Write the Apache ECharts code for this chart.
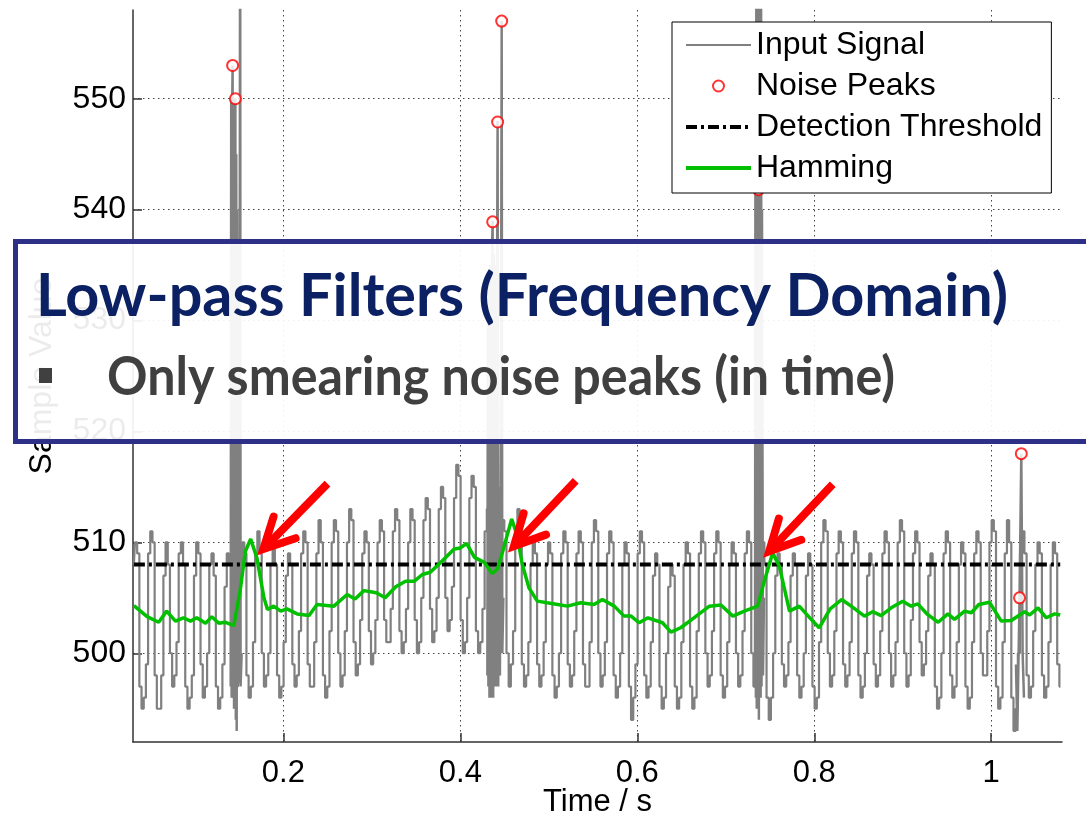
<!DOCTYPE html>
<html><head><meta charset="utf-8">
<script src="https://cdn.jsdelivr.net/npm/echarts@6/dist/echarts.min.js"></script>
<style>html,body{margin:0;padding:0;background:#fff}#c{width:1086px;height:816px}</style>
</head><body><div id="c"></div>
<script>
// ---------- data ----------
const xTicks = [0.2, 0.4, 0.6, 0.8, 1];
const yTicks = [500, 510, 520, 530, 540, 550];

const signalStart = 0.031;
const signalStep = 0.00247;
const signalValues = [
508,510,509,497,495,496,499,
509,511,510,498,495,495,498,
507,510,508,500,497,498,501,
509,510,508,497,495,496,498,
507,510,509,499,496,497,500,
508,509,507,497,495,496,499,
506,509,508,498,496,497,500,
508,510,509,498,496,497,501,
509,511,509,500,497,498,500,
508,510,508,498,496,497,501,
507,509,508,499,497,498,502,
509,511,510,499,497,497,501,
509,512,510,498,496,497,502,
510,512,511,500,497,498,502,
510,513,512,501,498,499,503,
509,511,510,502,499,500,503,
510,512,511,503,501,501,504,
511,513,512,502,500,501,504,
510,513,512,503,500,501,505,
512,514,513,504,501,502,505,
513,515,514,505,502,503,506,
514,517,516,503,500,501,505,
514,516,515,502,500,501,504,
511,513,512,501,499,500,503,
510,512,511,500,497,499,502,
510,513,512,499,497,498,501,
508,510,509,499,497,498,501,
508,510,509,498,496,497,500,
509,511,510,499,497,498,502,
509,511,510,499,497,497,501,
510,512,511,500,497,498,501,
509,511,510,498,496,497,500,
508,510,509,497,494,496,499,
509,511,510,498,496,497,501,
507,509,508,497,495,496,500,
506,508,507,497,495,496,501,
508,510,509,497,495,496,502,
509,511,510,500,497,498,502,
509,511,510,498,496,497,501,
508,510,509,500,497,498,502,
509,511,510,500,497,498,501,
508,510,508,496,494,496,500,
507,509,508,499,497,498,501,
507,509,508,498,496,497,500,
507,509,508,497,495,496,501,
510,512,511,500,497,498,502,
509,511,510,499,497,498,501,
509,511,510,498,496,497,500,
507,509,508,499,497,498,502,
509,511,510,500,497,498,501,
510,512,511,500,497,498,503,
509,511,510,501,498,499,502,
507,509,508,497,495,496,500,
509,511,510,498,496,497,501,
508,510,509,497,495,496,501,
509,511,510,500,498,498,502,
510,512,511,497,495,496,501,
509,512,510,496,493,495,500,
509,511,509,498,496,497,502,
508,510,509,498,496,497,501,
508,510,509,499,497
];

// dense noise bursts of the input signal (time, value); null breaks the line
const burstTimes = [
0.1404,0.1410,0.1415,0.1420,0.1426,0.1431,0.1436,0.1442,0.1447,0.1452,0.1457,0.1462,0.1467,0.1472,0.1477,0.1483,0.1494,0.1505,0.1511,0.1516,0.1528, 0.1529,
0.4305,0.4311,0.4317,0.4323,0.4329,0.4335,0.4341,0.4347,0.4353,0.4359,0.4365,0.4371,0.4377,0.4383,0.4389,0.4395,0.4401,0.4407,0.4413,0.4421,0.4428,0.4437,0.4447,0.4458,0.4467,0.4474,0.4486, 0.4487,
0.7330,0.7335,0.7340,0.7345,0.7350,0.7355,0.7360,0.7364,0.7369,0.7374,0.7379,0.7384,0.7389,0.7394,0.7399,0.7404,0.7409,0.7420,0.7432, 0.7433,
1.0280,1.0295,1.0320,1.0340,1.0355,1.0370
];
const burstValues = [
497,550,496,549,553,497,550,495,549,496,550,494,545,493,540,497,498,520,575,497,500, null,
498,530,497,533,496,535,497,534,496,537,539,496,536,497,535,498,534,497,530,548,497,515,498,520,557,500,505, null,
497,545,496,560,495,575,497,560,541.8,494,565,497,555,496,560,497,540,498,505, null,
499,493,505,518,500,496
];

const peakTimes  = [0.1426, 0.1457, 0.4365, 0.4421, 0.4467, 0.7369, 1.0320, 1.0340];
const peakValues = [553.0, 550.0, 538.9, 547.9, 557.0, 541.8, 505.0, 518.0];

const thresholdTimes = [0.031, 1.078];
const thresholdValues = [508, 508];

const hammingTimes = [
0.031,0.046,0.059,0.068,0.078,0.087,0.095,0.102,0.112,0.119,0.127,0.134,0.144,0.151,0.157,0.163,0.170,0.178,0.182,0.189,
0.197,0.204,0.2155,0.229,0.238,0.257,0.272,0.281,0.291,0.305,0.315,0.327,0.338,0.348,0.357,0.366,0.378,0.393,0.400,0.407,
0.416,0.427,0.436,0.442,0.449,0.458,0.464,0.470,0.4775,0.487,0.498,0.510,0.521,0.536,0.551,0.5606,0.574,0.585,0.593,0.602,
0.612,0.6285,0.638,0.649,0.664,0.6815,0.6945,0.708,0.721,0.736,0.7435,0.753,0.7605,0.772,0.783,0.796,0.8055,0.818,0.831,0.8425,
0.8567,0.866,0.8755,0.887,0.900,0.9095,0.917,0.928,0.940,0.951,0.9585,0.970,0.9775,0.986,0.998,1.0113,1.0226,1.0377,1.0434,1.0529,
1.0623,1.0717,1.078
];
const hammingValues = [
504.3,503.3,502.8,503.8,502.9,503.2,502.9,503.2,502.7,503.3,502.7,502.8,502.5,505.6,509.2,510.3,508.6,505.0,503.95,504.25,
503.8,504.0,503.55,503.4,504.4,504.25,505.3,504.9,505.65,505.45,505.0,506.0,506.5,506.5,507.1,507.3,508.2,509.4,509.5,509.9,
508.65,508.2,507.2,507.6,509.5,512.1,510.7,508.0,505.9,504.7,504.55,504.4,504.25,504.55,504.4,504.85,504.25,503.35,503.35,502.75,
503.2,502.75,501.9,502.3,503.2,504.25,504.35,503.35,503.8,504.25,506.5,509.05,507.85,503.8,504.25,503.1,502.3,504.0,504.85,504.2,
503.35,503.75,503.4,504.1,504.7,504.25,504.45,503.5,502.8,503.55,503.05,503.8,503.65,504.4,504.6,502.9,502.95,503.75,503.45,504.1,
503.2,503.55,503.45
];

// annotation arrows: tail -> tip, in data coordinates
const arrowTailT = [0.2498, 0.5304, 0.8209];
const arrowTailV = [515.3, 515.55, 515.25];
const arrowTipT  = [0.1774, 0.4606, 0.7491];
const arrowTipV  = [509.4, 509.67, 509.2];

const legendNames = ['Input Signal', 'Noise Peaks', 'Detection Threshold', 'Hamming'];
const titleText = 'Low-pass Filters (Frequency Domain)';
const bulletText = 'Only smearing noise peaks (in time)';

// ---------- build ----------
const signalData = signalValues.map((v, i) => [signalStart + i * signalStep, v]);
const burstData = burstTimes.map((t, i) => [t, burstValues[i] === null ? '-' : burstValues[i]]);
const peakData = peakTimes.map((t, i) => [t, peakValues[i]]);
const thresholdData = thresholdTimes.map((t, i) => [t, thresholdValues[i]]);
const hammingData = hammingTimes.map((t, i) => [t, hammingValues[i]]);
const arrowData = arrowTailT.map((t, i) => [t, arrowTailV[i], arrowTipT[i], arrowTipV[i]]);

const FONT = '"Liberation Sans", Arial, Helvetica, sans-serif';

function fitScale(text, font, width) {
  const ctx = document.createElement('canvas').getContext('2d');
  ctx.font = font;
  return width / ctx.measureText(text).width;
}
const titleFont = 'bold 59px Lato';
const bulletFont = 'bold 54px Lato';
const titleScale = fitScale(titleText, titleFont, 972);
const bulletScale = fitScale(bulletText, bulletFont, 788);

const chart = echarts.init(document.getElementById('c'), null, {renderer: 'canvas'});
const gridLine = {show: true, lineStyle: {color: '#444', width: 1, type: [1.5, 3.5]}};
const hideSym = {opacity: 0};

chart.setOption({
  animation: false,
  backgroundColor: '#fff',
  grid: {left: 133, right: 24, top: 10, bottom: 74, containLabel: false, outerBoundsMode: 'none'},
  xAxis: {
    type: 'value', min: 0.03, max: 1.08,
    name: 'Time / s', nameLocation: 'middle', nameGap: 45, nameMoveOverlap: false,
    nameTextStyle: {fontSize: 31, color: '#000', fontFamily: FONT},
    axisLine: {show: true, lineStyle: {color: '#333', width: 1.5}},
    axisTick: {show: true, inside: true, length: 9, customValues: xTicks, lineStyle: {color: '#333', width: 1.5}},
    axisLabel: {customValues: xTicks, fontSize: 31, color: '#000', fontFamily: FONT, margin: 16,
      formatter: v => String(Math.round(v * 10) / 10)},
    splitLine: gridLine
  },
  yAxis: {
    type: 'value', min: 492, max: 558,
    name: 'Sample Value', nameLocation: 'middle', nameGap: 75, nameRotate: 90, nameMoveOverlap: false,
    nameTextStyle: {fontSize: 32, color: '#000', fontFamily: FONT},
    axisLine: {show: true, lineStyle: {color: '#333', width: 1.5}},
    axisTick: {show: true, inside: true, length: 9, customValues: yTicks, lineStyle: {color: '#333', width: 1.5}},
    axisLabel: {customValues: yTicks, fontSize: 32, color: '#000', fontFamily: FONT, margin: 7},
    splitLine: gridLine
  },
  legend: {
    data: [
      {name: legendNames[0], itemStyle: hideSym, lineStyle: {width: 2}},
      {name: legendNames[1]},
      {name: legendNames[2], itemStyle: hideSym, lineStyle: {width: 4}},
      {name: legendNames[3], itemStyle: hideSym, lineStyle: {width: 4}}
    ],
    orient: 'vertical', left: 672, top: 22,
    padding: [7, 9, 9, 12], itemGap: 9, itemWidth: 65, itemHeight: 11,
    backgroundColor: '#fff', borderColor: '#000', borderWidth: 1, borderRadius: 0,
    selectedMode: false, z: 20,
    textStyle: {fontSize: 32, color: '#000', fontFamily: FONT}
  },
  series: [
    {name: 'Input Signal', type: 'line', data: signalData, symbol: 'none', z: 2, step: 'middle',
      lineStyle: {color: '#808080', width: 2.2}, itemStyle: {color: '#808080'}},
    {name: 'Input Signal', type: 'line', data: burstData, symbol: 'none', z: 2, connectNulls: false,
      lineStyle: {color: '#808080', width: 2.5}, itemStyle: {color: '#808080'}},
    {name: 'Noise Peaks', type: 'scatter', data: peakData, symbol: 'emptyCircle', symbolSize: 11, z: 4,
      itemStyle: {color: '#ff0000', borderColor: '#ff0000', borderWidth: 1.5}},
    {name: 'Detection Threshold', type: 'line', data: thresholdData, symbol: 'none', z: 3,
      lineStyle: {color: '#000', width: 4, type: [11, 4, 3, 4]}, itemStyle: {color: '#000'}},
    {name: 'Hamming', type: 'line', data: hammingData, symbol: 'none', z: 3,
      lineStyle: {color: '#00c000', width: 3.5}, itemStyle: {color: '#00c000'}},
    {name: 'arrows', type: 'custom', data: arrowData, z: 6, silent: true,
      encode: {x: [0, 2], y: [1, 3]},
      renderItem: (params, api) => {
        const a = api.coord([api.value(0), api.value(1)]);
        const b = api.coord([api.value(2), api.value(3)]);
        const ang = Math.atan2(a[1] - b[1], a[0] - b[0]);
        const L = 34, sp = 27 * Math.PI / 180;
        const w1 = [b[0] + L * Math.cos(ang - sp), b[1] + L * Math.sin(ang - sp)];
        const w2 = [b[0] + L * Math.cos(ang + sp), b[1] + L * Math.sin(ang + sp)];
        const s = [b[0] + 6 * Math.cos(ang), b[1] + 6 * Math.sin(ang)];
        return {type: 'group', children: [
          {type: 'line', shape: {x1: a[0], y1: a[1], x2: s[0], y2: s[1]}, style: {stroke: '#ff0000', lineWidth: 8}},
          {type: 'polyline', shape: {points: [w1, b, w2]}, style: {stroke: '#ff0000', lineWidth: 8, fill: null, lineJoin: 'miter', lineCap: 'round', miterLimit: 10}}
        ]};
      }}
  ],
  graphic: [
    {type: 'rect', z: 100, shape: {x: 15.5, y: 241.5, width: 1100, height: 200},
      style: {fill: 'rgba(255,255,255,0.92)', stroke: '#2e3087', lineWidth: 5}},
    {type: 'text', z: 101, x: 36, y: 297, scaleX: titleScale,
      style: {text: titleText, font: titleFont, fill: '#0c2163', textVerticalAlign: 'middle', verticalAlign: 'middle'}},
    {type: 'rect', z: 101, shape: {x: 39, y: 368, width: 13, height: 15}, style: {fill: '#404040'}},
    {type: 'text', z: 101, x: 107, y: 378, scaleX: bulletScale,
      style: {text: bulletText, font: bulletFont, fill: '#404040', textVerticalAlign: 'middle', verticalAlign: 'middle'}}
  ]
});
</script></body></html>
